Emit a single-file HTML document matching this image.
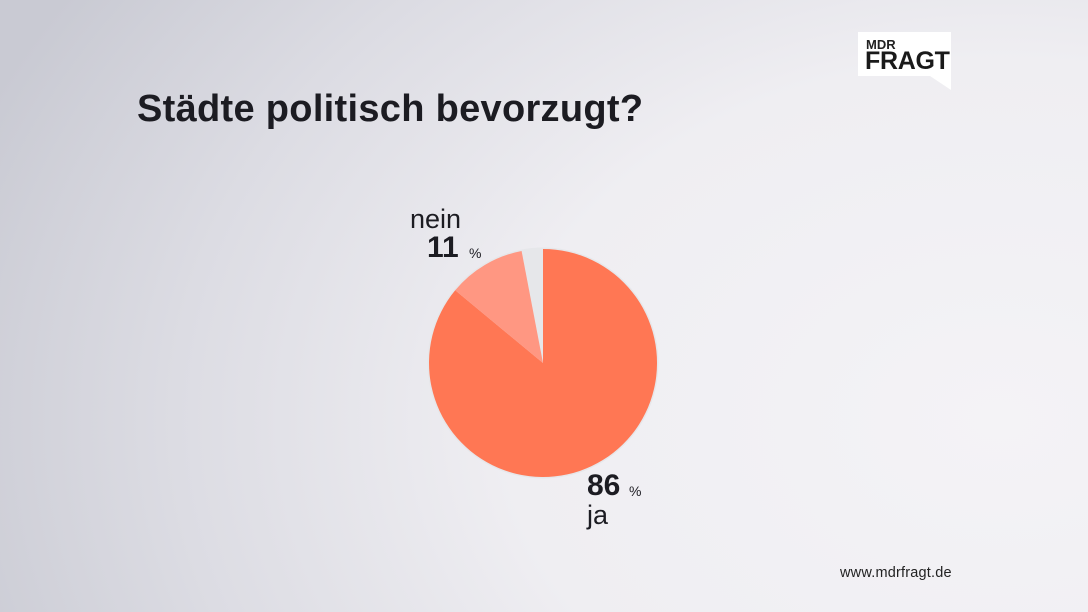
<!DOCTYPE html>
<html><head><meta charset="utf-8"><style>
html,body{margin:0;padding:0}
body{width:1088px;height:612px;overflow:hidden;position:relative;font-family:"Liberation Sans","DejaVu Sans",sans-serif;
background:radial-gradient(ellipse 1100px 800px at 1000px 420px,#f4f3f6 0%,#efeef2 45%,#dcdce3 75%,#c9cad3 100%);}
.t{position:absolute;left:137px;top:88px;font-size:38px;font-weight:bold;color:#1c1c22;letter-spacing:0.3px}
.logo{position:absolute;left:858px;top:32px;width:93px;height:44px;background:#fff}
.logo .a{position:absolute;left:8px;top:5px;font-size:13px;font-weight:bold;color:#222}
.logo .b{position:absolute;left:7px;top:17px;font-size:25px;font-weight:bold;color:#1a1a1a;letter-spacing:-0.3px;line-height:1}
.lab{position:absolute;color:#1c1c22}
.url{position:absolute;left:840px;top:565px;font-size:14.5px;color:#222;letter-spacing:0.2px}
</style></head><body>
<div class="t">Städte politisch bevorzugt?</div>
<div class="logo"><div class="a">MDR</div><div class="b">FRAGT</div></div>
<svg style="position:absolute;left:0;top:0" width="1088" height="612">
<polygon points="930,76 951,76 951,90" fill="#fff"/>
<circle cx="543" cy="363" r="115.5" fill="#e6e7ea"/>
<path d="M543,363 L543,249 A114,114 0 1 1 455.2,290.3 Z" fill="#ff7754"/>
<path d="M543,363 L455.2,290.3 A114,114 0 0 1 521.6,251 Z" fill="#ff9782"/>
</svg>
<div class="lab" style="left:410px;top:204px;font-size:27px">nein</div>
<div class="lab" style="left:427px;top:231px;font-size:30px;font-weight:bold">11</div>
<div class="lab" style="left:469px;top:245px;font-size:14px">%</div>
<div class="lab" style="left:587px;top:469px;font-size:30px;font-weight:bold">86</div>
<div class="lab" style="left:629px;top:483px;font-size:14px">%</div>
<div class="lab" style="left:587px;top:500px;font-size:27px">ja</div>
<div class="url">www.mdrfragt.de</div>
</body></html>
